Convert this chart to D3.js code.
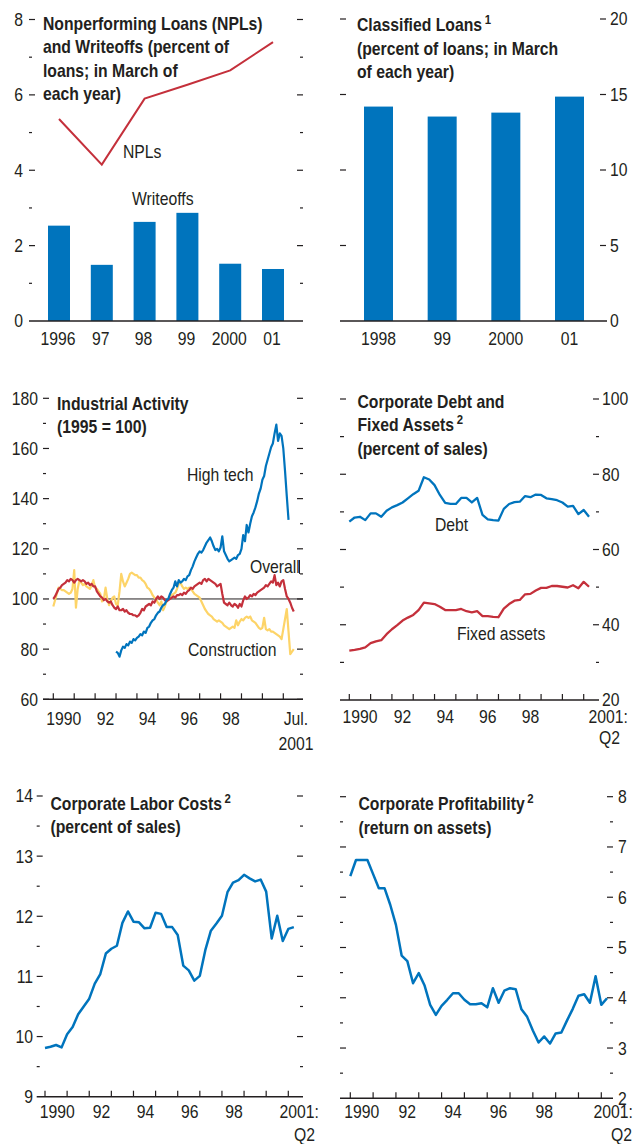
<!DOCTYPE html>
<html>
<head>
<meta charset="utf-8">
<script src="https://cdn.jsdelivr.net/npm/d3@7"></script>
<style>
  body { margin: 0; background: #fff; }
  svg { display: block; }
  text { font-family: "Liberation Sans", Arial, sans-serif; font-size: 18px; fill: #231f20; }
  .title { font-weight: bold; }
</style>
</head>
<body>
<svg id="chart" width="634" height="1144"></svg>
<script>
// ---- data ----
const npYears = ["1996", "97", "98", "99", "2000", "01"];
const writeoffs = [2.53, 1.49, 2.63, 2.87, 1.52, 1.38];
const npls = [5.36, 4.15, 5.9, 6.27, 6.65, 7.4];

const clYears = ["1998", "99", "2000", "01"];
const classified = [14.2, 13.54, 13.8, 14.86];

// monthly, Jan 1990 - Jul 2001
const overall = [
  100, 101, 102.5, 104, 104.5, 105.5, 106, 106.5, 107.5, 107, 108, 107.5,
  106.5, 107.5, 108, 107.5, 107, 107.5, 107, 106, 106.5, 105.5, 106, 105,
  105, 103, 102, 101, 100.5, 99.5, 100, 99, 98.5, 99, 97.5, 96.5,
  96, 97, 95.5, 95.5, 96, 95, 95.5, 94.5, 94, 94, 93.5, 93.5,
  93, 93.5, 94.5, 96, 95.5, 97, 97.5, 98, 97.5, 99, 98.5, 100,
  101, 100, 101, 100.5, 99.5, 99, 99.5, 100, 100.5, 101, 100.5, 101.5,
  101.5, 102, 101.5, 102.5, 102, 103, 103.5, 104.5, 104, 105, 105.5, 106,
  106.5, 106, 107.5, 108, 107, 108, 107.5, 107, 106.5, 106, 105, 105.5,
  106, 102, 98.5, 98, 97.5, 98.5, 97.5, 97, 98, 97.5, 96.5, 98,
  97, 99.5, 101, 100, 100.5, 101.5, 101, 102, 101.5, 102.5, 103, 103.5,
  104, 104.5, 105.5, 105, 106, 107, 106.5, 109.5, 105.5, 106.5, 105, 107,
  107.5, 104, 101, 100, 98.5, 96.5, 95
];
// monthly, Jan 1990 - Jul 2001
const construction = [
  97, 99.5, 102, 104.5, 104, 103.5, 103.5, 103, 102.5, 102, 102.5, 104,
  111.5, 96.5, 104, 107.5, 106.5, 105.5, 106, 105, 104.5, 104, 105.5, 107.5,
  104.5, 104, 103, 102, 99, 100, 104.5, 100, 97.5, 99, 100.5, 101,
  98, 97.5, 103, 110, 107, 105, 106.5, 108, 110, 110.5, 110, 109.5,
  109.5, 108.5, 108.5, 107.5, 107, 106, 104.5, 104, 103, 101.5, 100.5, 100,
  98.5, 97.5, 99, 95.5, 97, 99, 100, 101, 101.5, 102, 102.5, 104,
  106, 106.5, 105, 104, 104.5, 104, 104.5, 104, 103, 102, 101.5, 101,
  100.5, 99, 97.5, 96, 95, 94, 93.5, 93, 92, 91.5, 91, 91.5,
  91, 90.5, 89.5, 89, 88.5, 88, 88.5, 89, 88.5, 91.5, 89.5, 91,
  92, 91.5, 92.5, 93, 92.5, 93, 91.5, 91, 90.5, 89.5, 88.5, 88,
  88.5, 92.5, 88, 87.5, 88, 87, 87, 86.5, 86, 85.5, 85, 84,
  88, 92, 96, 87, 78, 79, 80
];
// monthly, Jan 1993 - Apr 2001
const highTech = [
  79, 78.5, 77, 79.5, 81, 80.5, 82, 81.5, 83, 82.5, 84, 83.5,
  84.5, 85, 86, 85.5, 87, 86.5, 88.5, 89, 90.5, 91.5, 92, 93.5,
  94.5, 95, 96.5, 97.5, 98, 99.5, 100, 102, 103.5, 104.5, 107, 105,
  107.5, 106.5, 107, 108, 107.5, 109, 109.5, 111.5, 113, 115, 116.5, 118,
  119, 118.5, 119.5, 121, 122.5, 123.5, 124.5, 123, 121, 119.5, 120, 119,
  120.5, 125, 119, 117.5, 116, 115, 115.5, 116, 116.5, 116, 117.5, 118,
  120, 125.5, 123, 129.5, 126.5, 130, 133, 134.5, 136.5, 139, 142, 144,
  147.5, 149, 153, 155.5, 158, 160.5, 162, 166, 169.5, 163, 166, 165,
  160, 151, 141, 131.5
];

// quarterly, 1990:Q1 - 2001:Q2
const debt = [
  67.4, 68.5, 68.7, 67.8, 69.6, 69.6, 68.7, 70.3, 71.2, 71.8, 72.5, 73.6,
  74.7, 75.6, 79.2, 78.6, 77.1, 74.5, 72.4, 72.1, 72.1, 73.7, 73.7, 72.5,
  73.7, 69.2, 68.0, 67.8, 67.7, 70.8, 72.1, 72.6, 72.7, 74.2, 73.9, 74.6,
  74.5, 73.6, 73.4, 73.1, 72.5, 71.4, 71.6, 69.4, 70.5, 68.7
];
const fixedAssets = [
  33.1, 33.3, 33.6, 34.0, 35.1, 35.6, 35.9, 37.5, 38.8, 39.9, 41.1, 41.9,
  42.6, 43.9, 45.9, 45.7, 45.5, 44.8, 43.9, 43.9, 43.9, 44.2, 43.6, 43.3,
  43.6, 42.3, 42.3, 42.1, 42.0, 44.3, 45.5, 46.4, 46.6, 48.1, 48.2, 49.1,
  49.8, 49.8, 50.3, 50.3, 50.1, 49.9, 50.5, 49.7, 51.4, 50.1
];
const laborCosts = [
  9.81, 9.83, 9.86, 9.82, 10.04, 10.16, 10.37, 10.50, 10.63, 10.88, 11.04, 11.38,
  11.46, 11.51, 11.89, 12.08, 11.91, 11.90, 11.80, 11.81, 12.06, 12.04, 11.82, 11.82,
  11.69, 11.18, 11.10, 10.93, 11.01, 11.44, 11.76, 11.88, 12.01, 12.40, 12.56, 12.60,
  12.69, 12.63, 12.58, 12.61, 12.41, 11.63, 12.01, 11.59, 11.79, 11.82
];
const profitability = [
  6.42, 6.74, 6.74, 6.74, 6.46, 6.18, 6.18, 5.85, 5.45, 4.84, 4.73, 4.29,
  4.49, 4.25, 3.86, 3.66, 3.84, 3.96, 4.09, 4.09, 3.96, 3.87, 3.87, 3.89,
  3.81, 4.19, 3.90, 4.14, 4.19, 4.17, 3.77, 3.62, 3.35, 3.11, 3.23, 3.09,
  3.29, 3.31, 3.55, 3.78, 4.04, 4.07, 3.90, 4.43, 3.86, 3.99
];

const yearTicks = d3.range(1990, 2002);
const yearLabels = [[1990, "1990"], [1992, "92"], [1994, "94"], [1996, "96"], [1998, "98"]];

// ---- colours ----
const BLUE = "#0074bd", RED = "#c4303b", YELLOW = "#fdd468", INK = "#231f20";
const SQUEEZE = 0.875; // condensed look

const svg = d3.select("#chart");

// helpers
function hticks(g, y, vals, x, len) {
  g.append("g").selectAll("line").data(vals).join("line")
    .attr("x1", x).attr("x2", x + len)
    .attr("y1", d => y(d)).attr("y2", d => y(d))
    .attr("stroke", INK).attr("stroke-width", 1.2);
}
function ylabels(g, y, vals, x, anchor) {
  g.append("g").selectAll("text").data(vals).join("text")
    .attr("x", x).attr("y", d => y(d)).attr("dy", "0.36em")
    .attr("text-anchor", anchor).text(d => d);
}
function baseline(g, y0, x0, x1) {
  g.append("line").attr("x1", x0).attr("x2", x1).attr("y1", y0).attr("y2", y0)
    .attr("stroke", INK).attr("stroke-width", 1.4);
}
function vticks(g, x, y0) {
  g.append("g").selectAll("line").data(yearTicks).join("line")
    .attr("x1", d => x(d)).attr("x2", d => x(d))
    .attr("y1", y0).attr("y2", y0 - 6)
    .attr("stroke", INK).attr("stroke-width", 1.2);
}
function xlabels(g, x, ty, shift) {
  g.append("g").selectAll("text").data(yearLabels).join("text")
    .attr("x", d => x(d[0] + shift)).attr("y", ty)
    .attr("text-anchor", "middle").text(d => d[1]);
}
function title(g, x, y0, lines, sup) {
  const t = g.append("text").attr("class", "title").attr("x", x);
  lines.forEach((l, i) => {
    t.append("tspan").attr("x", x).attr("y", y0 + i * 23.3).text(l);
    if (sup && sup.line === i) {
      t.append("tspan").attr("dx", 3).attr("dy", -7).style("font-size", "13px").text(sup.t);
    }
  });
}
function lineOf(x, y, start, step) {
  return d3.line().x((d, i) => x(start + i * step)).y(d => y(d));
}
function label(g, x, y, t, anchor) {
  g.append("text").attr("x", x).attr("y", y).attr("text-anchor", anchor || "start").text(t);
}

// ===== Panel A: NPLs and writeoffs =====
{
  const g = svg.append("g");
  const y = d3.scaleLinear().domain([0, 8]).range([321, 19.5]);
  const x = d3.scalePoint().domain(npYears).range([59, 273]);
  g.selectAll("rect").data(writeoffs).join("rect")
    .attr("x", (d, i) => x(npYears[i]) - 11).attr("width", 22)
    .attr("y", d => y(d)).attr("height", d => y(0) - y(d))
    .attr("fill", BLUE);
  g.append("path").datum(npls)
    .attr("d", d3.line().x((d, i) => x(npYears[i])).y(d => y(d)))
    .attr("fill", "none").attr("stroke", RED).attr("stroke-width", 2);
  hticks(g, y, [2, 4, 6, 8], 29, 6);
  hticks(g, y, [1, 3, 5, 7], 29, 3);
  hticks(g, y, [2, 4, 6, 8], 303, -6);
  hticks(g, y, [1, 3, 5, 7], 303, -3);
  ylabels(g, y, [0, 2, 4, 6, 8], 23, "end");
  baseline(g, y(0), 29, 303);
  g.append("g").selectAll("text").data(npYears).join("text")
    .attr("x", d => x(d) - 1).attr("y", 345).attr("text-anchor", "middle").text(d => d);
  title(g, 43, 30, ["Nonperforming Loans (NPLs)", "and Writeoffs (percent of", "loans; in March of", "each year)"]);
  label(g, 123, 158, "NPLs");
  label(g, 132, 205, "Writeoffs");
}

// ===== Panel B: classified loans =====
{
  const g = svg.append("g");
  const y = d3.scaleLinear().domain([0, 20]).range([321, 19]);
  const x = d3.scalePoint().domain(clYears).range([378.5, 569.5]);
  g.selectAll("rect").data(classified).join("rect")
    .attr("x", (d, i) => x(clYears[i]) - 14.5).attr("width", 29)
    .attr("y", d => y(d)).attr("height", d => y(0) - y(d))
    .attr("fill", BLUE);
  hticks(g, y, [5, 10, 15, 20], 340, 6);
  hticks(g, y, [5, 10, 15, 20], 606, -6);
  ylabels(g, y, [0, 5, 10, 15, 20], 610, "start");
  baseline(g, y(0), 340, 607);
  g.append("g").selectAll("text").data(clYears).join("text")
    .attr("x", d => x(d)).attr("y", 345).attr("text-anchor", "middle").text(d => d);
  title(g, 357, 31.5, ["Classified Loans", "(percent of loans; in March", "of each year)"],
    { line: 0, t: "1" });
}

// ===== Panel C: industrial activity =====
{
  const g = svg.append("g");
  const y = d3.scaleLinear().domain([60, 180]).range([699.3, 398.3]);
  const x = d3.scaleLinear().domain([1990, 2001]).range([53.3, 283.3]);
  g.append("line").attr("x1", x(1990)).attr("x2", 303).attr("y1", y(100)).attr("y2", y(100))
    .attr("stroke", INK).attr("stroke-width", 1);
  const series = [[construction, 1990, YELLOW], [overall, 1990, RED], [highTech, 1993, BLUE]];
  series.forEach(([data, start, col]) => {
    g.append("path").datum(data).attr("d", lineOf(x, y, start, 1 / 12))
      .attr("fill", "none").attr("stroke", col).attr("stroke-width", 2.2)
      .attr("stroke-linejoin", "round");
  });
  hticks(g, y, d3.range(60, 181, 20), 43, 6);
  hticks(g, y, d3.range(70, 180, 20), 43, 3);
  hticks(g, y, d3.range(60, 181, 20), 303, -6);
  hticks(g, y, d3.range(70, 180, 20), 303, -3);
  ylabels(g, y, d3.range(60, 181, 20), 38, "end");
  baseline(g, y(60), 43, 303);
  vticks(g, x, y(60));
  xlabels(g, x, 725, 0.5);
  label(g, 296, 725, "Jul.", "middle");
  label(g, 296, 750, "2001", "middle");
  title(g, 57, 410, ["Industrial Activity", "(1995 = 100)"]);
  label(g, 187, 481.5, "High tech");
  label(g, 250, 573, "Overall");
  g.append("line").attr("x1", 299.5).attr("x2", 299.5).attr("y1", 560).attr("y2", y(110))
    .attr("stroke", INK).attr("stroke-width", 1);
  label(g, 188, 656.5, "Construction");
}

// ===== Panel D: corporate debt and fixed assets =====
{
  const g = svg.append("g");
  const y = d3.scaleLinear().domain([20, 100]).range([700, 399]);
  const x = d3.scaleLinear().domain([1990, 2001]).range([349.3, 583.7]);
  [[debt, BLUE], [fixedAssets, RED]].forEach(([data, col]) => {
    g.append("path").datum(data).attr("d", lineOf(x, y, 1990, 0.25))
      .attr("fill", "none").attr("stroke", col).attr("stroke-width", 2.3)
      .attr("stroke-linejoin", "round");
  });
  hticks(g, y, [40, 60, 80, 100], 340, 6);
  hticks(g, y, [30, 50, 70, 90], 340, 4);
  hticks(g, y, [40, 60, 80, 100], 599, -6);
  hticks(g, y, [30, 50, 70, 90], 599, -3);
  ylabels(g, y, [20, 40, 60, 80, 100], 602, "start");
  baseline(g, y(20), 340, 599);
  vticks(g, x, y(20));
  xlabels(g, x, 723, 0.5);
  label(g, 628, 723, "2001:", "end");
  label(g, 620, 744, "Q2", "end");
  title(g, 357.5, 408, ["Corporate Debt and", "Fixed Assets", "(percent of sales)"],
    { line: 1, t: "2" });
  label(g, 435, 531.5, "Debt");
  label(g, 457, 640, "Fixed assets");
}

// ===== Panel E: corporate labor costs =====
{
  const g = svg.append("g");
  const y = d3.scaleLinear().domain([9, 14]).range([1096.7, 796]);
  const x = d3.scaleLinear().domain([1990, 2001]).range([45, 288.3]);
  g.append("path").datum(laborCosts).attr("d", lineOf(x, y, 1990, 0.25))
    .attr("fill", "none").attr("stroke", BLUE).attr("stroke-width", 2.5)
    .attr("stroke-linejoin", "round");
  hticks(g, y, d3.range(10, 15), 36.7, 6);
  hticks(g, y, d3.range(9.5, 14, 1), 36.7, 3);
  hticks(g, y, d3.range(10, 15), 303, -6);
  hticks(g, y, d3.range(9.5, 14, 1), 303, -3);
  ylabels(g, y, d3.range(9, 15), 33, "end");
  baseline(g, y(9), 36.7, 303);
  vticks(g, x, y(9));
  xlabels(g, x, 1118, 0.55);
  label(g, 319, 1118, "2001:", "end");
  label(g, 315, 1141, "Q2", "end");
  title(g, 50.5, 810, ["Corporate Labor Costs", "(percent of sales)"], { line: 0, t: "2" });
}

// ===== Panel F: corporate profitability =====
{
  const g = svg.append("g");
  const y = d3.scaleLinear().domain([2, 8]).range([1098.3, 796.7]);
  const x = d3.scaleLinear().domain([1990, 2001]).range([350.3, 601.3]);
  g.append("path").datum(profitability).attr("d", lineOf(x, y, 1990, 0.25))
    .attr("fill", "none").attr("stroke", BLUE).attr("stroke-width", 2.5)
    .attr("stroke-linejoin", "round");
  hticks(g, y, d3.range(3, 9), 340, 6);
  hticks(g, y, d3.range(2.5, 8, 1), 340, 3);
  hticks(g, y, d3.range(3, 9), 613, -6);
  hticks(g, y, d3.range(2.5, 8, 1), 613, -3);
  ylabels(g, y, d3.range(2, 9), 618, "start");
  baseline(g, y(2), 340, 613);
  vticks(g, x, y(2));
  xlabels(g, x, 1118, 0.5);
  label(g, 633, 1118, "2001:", "end");
  label(g, 632, 1141, "Q2", "end");
  title(g, 358.5, 810.5, ["Corporate Profitability", "(return on assets)"], { line: 0, t: "2" });
}

// condense all text horizontally around its anchor x
svg.selectAll("text").attr("transform", function () {
  const x = +this.getAttribute("x") || 0;
  return `translate(${x * (1 - SQUEEZE)},0) scale(${SQUEEZE},1)`;
});
</script>
</body>
</html>
